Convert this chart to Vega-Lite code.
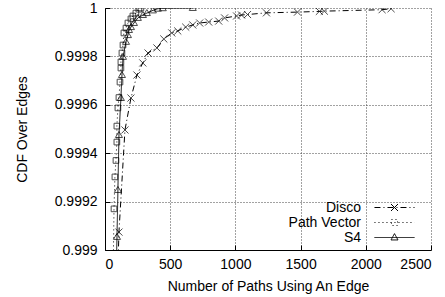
{
  "$schema": "https://vega.github.io/schema/vega-lite/v6.json",
  "width": 326,
  "height": 242,
  "autosize": "none",
  "padding": {"left": 105, "top": 8, "right": 14, "bottom": 47},
  "background": "white",
  "config": {
    "view": {"stroke": null},
    "font": "Liberation Sans",
    "axis": {
      "labelFont": "Liberation Sans",
      "titleFont": "Liberation Sans",
      "labelFontSize": 14,
      "titleFontSize": 14,
      "titleFontWeight": "normal",
      "labelColor": "black",
      "titleColor": "black",
      "domainColor": "black",
      "tickColor": "black",
      "tickSize": -5,
      "gridColor": "#444",
      "gridDash": [1, 2],
      "gridWidth": 1
    },
    "legend": {
      "labelFont": "Liberation Sans",
      "labelFontSize": 14,
      "labelColor": "black"
    }
  },
  "data": {
    "values": [
      {"s": "Disco", "x": 92, "y": 0.9988},
      {"s": "Disco", "x": 107, "y": 0.999074},
      {"s": "Disco", "x": 153, "y": 0.999496},
      {"s": "Disco", "x": 199, "y": 0.999628},
      {"s": "Disco", "x": 245, "y": 0.999723},
      {"s": "Disco", "x": 290, "y": 0.999773},
      {"s": "Disco", "x": 330, "y": 0.999814},
      {"s": "Disco", "x": 398, "y": 0.999835},
      {"s": "Disco", "x": 451, "y": 0.999872},
      {"s": "Disco", "x": 512, "y": 0.999897},
      {"s": "Disco", "x": 558, "y": 0.999905},
      {"s": "Disco", "x": 619, "y": 0.999921},
      {"s": "Disco", "x": 673, "y": 0.99993},
      {"s": "Disco", "x": 726, "y": 0.999938},
      {"s": "Disco", "x": 795, "y": 0.999942},
      {"s": "Disco", "x": 872, "y": 0.999946},
      {"s": "Disco", "x": 917, "y": 0.999959},
      {"s": "Disco", "x": 1009, "y": 0.999967},
      {"s": "Disco", "x": 1047, "y": 0.999971},
      {"s": "Disco", "x": 1093, "y": 0.999973},
      {"s": "Disco", "x": 1238, "y": 0.99998},
      {"s": "Disco", "x": 1476, "y": 0.999983},
      {"s": "Disco", "x": 1644, "y": 0.999986},
      {"s": "Disco", "x": 1682, "y": 0.999987},
      {"s": "Disco", "x": 2125, "y": 0.999993},
      {"s": "Disco", "x": 2194, "y": 0.999997},
      {"s": "Path Vector", "x": 60, "y": 0.9988},
      {"s": "Path Vector", "x": 69, "y": 0.99917},
      {"s": "Path Vector", "x": 76, "y": 0.999302},
      {"s": "Path Vector", "x": 84, "y": 0.99937},
      {"s": "Path Vector", "x": 91, "y": 0.999446},
      {"s": "Path Vector", "x": 91, "y": 0.999512},
      {"s": "Path Vector", "x": 99, "y": 0.999587},
      {"s": "Path Vector", "x": 107, "y": 0.99963},
      {"s": "Path Vector", "x": 115, "y": 0.999694},
      {"s": "Path Vector", "x": 122, "y": 0.999752},
      {"s": "Path Vector", "x": 122, "y": 0.999777},
      {"s": "Path Vector", "x": 130, "y": 0.999814},
      {"s": "Path Vector", "x": 138, "y": 0.999847},
      {"s": "Path Vector", "x": 145, "y": 0.999897},
      {"s": "Path Vector", "x": 161, "y": 0.999917},
      {"s": "Path Vector", "x": 176, "y": 0.999938},
      {"s": "Path Vector", "x": 199, "y": 0.999955},
      {"s": "Path Vector", "x": 214, "y": 0.999967},
      {"s": "Path Vector", "x": 237, "y": 0.999979},
      {"s": "Path Vector", "x": 260, "y": 0.999995},
      {"s": "Path Vector", "x": 275, "y": 1.0},
      {"s": "S4", "x": 80, "y": 0.9988},
      {"s": "S4", "x": 92, "y": 0.999054},
      {"s": "S4", "x": 99, "y": 0.999248},
      {"s": "S4", "x": 107, "y": 0.999475},
      {"s": "S4", "x": 122, "y": 0.999628},
      {"s": "S4", "x": 130, "y": 0.999723},
      {"s": "S4", "x": 138, "y": 0.999798},
      {"s": "S4", "x": 161, "y": 0.99986},
      {"s": "S4", "x": 176, "y": 0.999888},
      {"s": "S4", "x": 184, "y": 0.999909},
      {"s": "S4", "x": 199, "y": 0.999921},
      {"s": "S4", "x": 222, "y": 0.999938},
      {"s": "S4", "x": 252, "y": 0.999959},
      {"s": "S4", "x": 291, "y": 0.999971},
      {"s": "S4", "x": 321, "y": 0.999979},
      {"s": "S4", "x": 367, "y": 0.99999},
      {"s": "S4", "x": 405, "y": 0.999997},
      {"s": "S4", "x": 443, "y": 0.999999},
      {"s": "S4", "x": 673, "y": 1.0}
    ]
  },
  "encoding": {
    "x": {
      "field": "x", "type": "quantitative",
      "scale": {"domain": [0, 2500], "nice": false},
      "axis": {
        "title": "Number of Paths Using An Edge",
        "values": [0, 500, 1000, 1500, 2000, 2500],
        "format": "d",
        "labelPadding": 12,
        "titlePadding": 8
      }
    },
    "y": {
      "field": "y", "type": "quantitative",
      "scale": {"domain": [0.999, 1], "nice": false, "zero": false},
      "axis": {
        "title": "CDF Over Edges",
        "values": [0.999, 0.9992, 0.9994, 0.9996, 0.9998, 1],
        "labelExpr": "format(datum.value, '.4~f')",
        "labelPadding": 13,
        "titlePadding": 25
      }
    }
  },
  "layer": [
    {
      "mark": {"type": "line", "clip": true, "strokeWidth": 1, "color": "black"},
      "encoding": {
        "order": {"field": "y"},
        "strokeDash": {
          "field": "s", "type": "nominal",
          "scale": {"domain": ["Disco", "Path Vector", "S4"], "range": [[6, 3, 1, 3], [1, 3], [1, 0]]},
          "legend": {
            "orient": "none",
            "legendX": 282,
            "legendY": 192,
            "title": null,
            "symbolSize": 196,
            "symbolStrokeWidth": 1,
            "symbolStrokeColor": "black",
            "labelAlign": "right",
            "labelOffset": -41,
            "rowPadding": 0,
            "encode": {
              "symbols": {
                "update": {
                  "shape": {"signal": "datum.value === 'Disco' ? 'M-2.86,0L2.86,0M0,0L0.5,0.5M0,0L-0.5,0.5M0,0L0.5,-0.5M0,0L-0.5,-0.5' : datum.value === 'Path Vector' ? 'M-2.86,0L2.86,0M-0.43,-0.43H0.43V0.43H-0.43Z' : 'M-2.86,0L2.86,0M0,-0.55L0.5,0.35H-0.5Z'"},
                  "stroke": {"value": "black"},
                  "fill": {"value": "transparent"}
                }
              }
            }
          }
        }
      }
    },
    {
      "transform": [{"filter": "datum.s === 'Disco'"}],
      "mark": {"type": "point", "clip": true, "filled": false, "strokeWidth": 1, "color": "black", "size": 50, "shape": "M-1,-1L1,1M-1,1L1,-1"},
      "encoding": {}
    },
    {
      "transform": [{"filter": "datum.s === 'Path Vector'"}],
      "mark": {"type": "point", "clip": true, "filled": false, "strokeWidth": 1, "color": "black", "size": 50, "shape": "M-0.8,-0.8H0.8V0.8H-0.8Z"},
      "encoding": {}
    },
    {
      "transform": [{"filter": "datum.s === 'S4'"}],
      "mark": {"type": "point", "clip": true, "filled": false, "strokeWidth": 1, "color": "black", "size": 50, "shape": "M0,-1L1,0.7H-1Z"},
      "encoding": {}
    }
  ]
}
